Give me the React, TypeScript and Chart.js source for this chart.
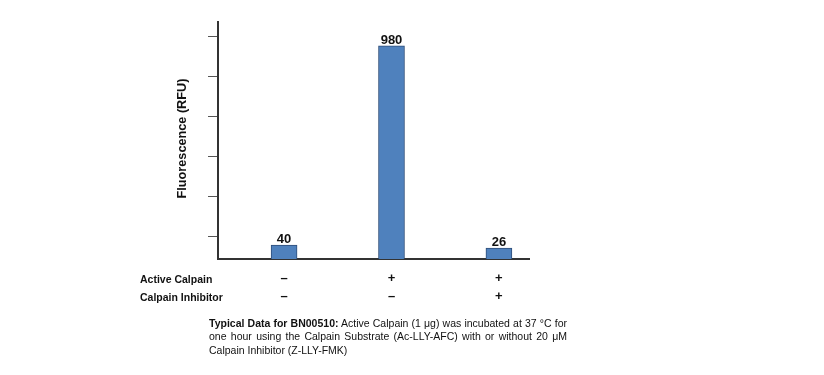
import React, { useEffect, useRef } from "react";
import { Chart, registerables } from "chart.js";

Chart.register(...registerables);

// ---- data ----
const categories = ["No enzyme", "Active Calpain", "Active Calpain + Inhibitor"];
const positions = [1, 2, 3];
const fluorescence = [40, 980, 26];
const activeCalpainRow = ["–", "+", "+"];
const inhibitorRow = ["–", "–", "+"];
const rowLabels = ["Active Calpain", "Calpain Inhibitor"];
const yTickValues = [78, 267, 456, 645, 834, 1023];
const Y_MIN = -26;
const Y_MAX = 1092;
const X_MIN = 0.385;
const X_MAX = 3.28;

const FONT = '"Liberation Sans", Arial, Helvetica, sans-serif';

const annotations = {
  id: "annotations",
  afterDatasetsDraw(chart: any) {
    const ctx = chart.ctx;
    const meta = chart.getDatasetMeta(0);
    const { left, top, bottom } = chart.chartArea;
    ctx.save();
    ctx.fillStyle = "#111";
    ctx.font = `bold 13px ${FONT}`;
    ctx.textAlign = "center";
    ctx.textBaseline = "alphabetic";
    meta.data.forEach((bar: any, i: number) => {
      ctx.fillText(String(fluorescence[i]), bar.x, bar.y - 2);
    });
    ctx.restore();

    ctx.save();
    ctx.fillStyle = "#111";
    ctx.translate(left - 36, (top + bottom) / 2 - 2);
    ctx.rotate(-Math.PI / 2);
    ctx.textAlign = "center";
    ctx.textBaseline = "middle";
    ctx.font = `bold 12.7px ${FONT}`;
    ctx.fillText("Fluorescence (RFU)", 0, 0);
    ctx.restore();

    ctx.save();
    ctx.fillStyle = "#111";
    ctx.font = `bold 10.5px ${FONT}`;
    ctx.textAlign = "left";
    ctx.textBaseline = "middle";
    rowLabels.forEach((t, i) => ctx.fillText(t, left - 78, bottom + 21 + i * 18));
    ctx.restore();
  },
};

export default function App() {
  const ref = useRef<HTMLCanvasElement>(null);

  useEffect(() => {
    if (!ref.current) return;
    const chart = new Chart(ref.current, {
      type: "bar",
      data: {
        labels: categories,
        datasets: [
          {
            label: "Fluorescence (RFU)",
            data: positions.map((x, i) => ({ x, y: fluorescence[i] })) as any,
            backgroundColor: "#4F81BD",
            borderColor: "#2E4D78",
            borderWidth: 1,
            barThickness: 26,
            base: Y_MIN,
          } as any,
        ],
      },
      options: {
        animation: false,
        responsive: false,
        devicePixelRatio: 1,
        layout: { padding: { left: 208, top: 22, right: 295, bottom: 70 } },
        plugins: { legend: { display: false }, tooltip: { enabled: false } },
        scales: {
          x: {
            type: "linear",
            min: X_MIN,
            max: X_MAX,
            offset: false,
            grid: { display: false, drawTicks: false, offset: false },
            border: { display: true, color: "#333", width: 2 },
            afterBuildTicks: (scale: any) => {
              scale.ticks = positions.map((v) => ({ value: v }));
            },
            afterFit: (scale: any) => {
              scale.height = 46;
            },
            ticks: {
              autoSkip: false,
              maxRotation: 0,
              padding: 10,
              color: "#111",
              font: { family: FONT, size: 13, weight: "bold", lineHeight: 1.385 },
              callback: (_v: any, i: number) => [activeCalpainRow[i], inhibitorRow[i]],
            },
          } as any,
          y: {
            min: Y_MIN,
            max: Y_MAX,
            grid: {
              display: true,
              drawOnChartArea: false,
              drawTicks: true,
              tickLength: 10,
              color: "#555",
              lineWidth: 1,
            },
            border: { display: true, color: "#333", width: 2 },
            afterBuildTicks: (scale: any) => {
              scale.ticks = yTickValues.map((v) => ({ value: v }));
            },
            afterFit: (scale: any) => {
              scale.width = 10;
            },
            ticks: { display: false },
          },
        },
      },
      plugins: [annotations],
    });
    return () => chart.destroy();
  }, []);

  const just: React.CSSProperties = { textAlign: "justify", textAlignLast: "justify" as any };

  return (
    <div style={{ position: "fixed", left: 0, top: 0, width: 824, height: 375, background: "#fff" }}>
      <canvas ref={ref} width={824} height={375} style={{ display: "block", width: 824, height: 375 }} />
      <div
        style={{
          position: "absolute",
          left: 209,
          top: 317,
          width: 358,
          fontFamily: FONT,
          fontSize: "10.5px",
          lineHeight: "13.3px",
          color: "#111",
        }}
      >
        <div style={just}>
          <b>Typical Data for BN00510:</b> Active Calpain (1 μg) was incubated at 37 °C for
        </div>
        <div style={just}>one hour using the Calpain Substrate (Ac-LLY-AFC) with or without 20 μM</div>
        <div>Calpain Inhibitor (Z-LLY-FMK)</div>
      </div>
    </div>
  );
}
